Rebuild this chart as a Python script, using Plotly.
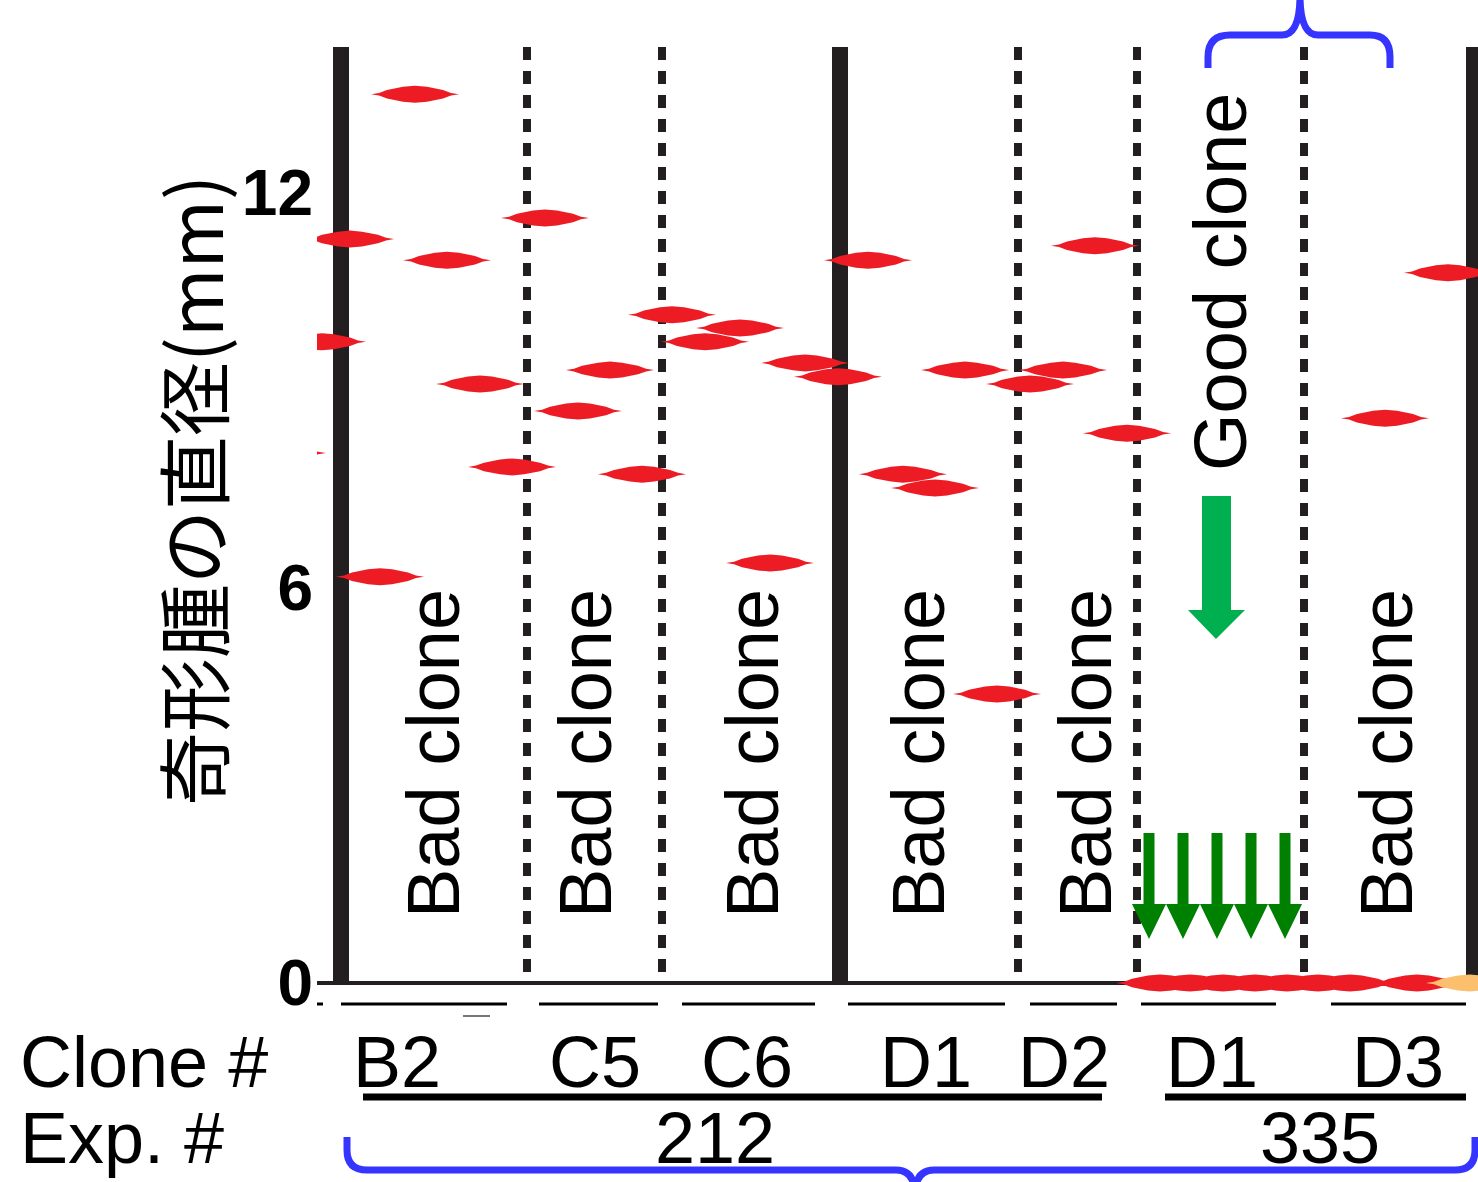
import plotly.graph_objects as go

# ---------------- data ----------------
y_ticks = [0, 6, 12]
clone_labels = ["B2", "C5", "C6", "D1", "D2", "D1", "D3"]
exp_labels = ["212", "335"]
group_notes = ["Bad clone", "Bad clone", "Bad clone", "Bad clone", "Bad clone", "Good clone", "Bad clone"]

# tumour positions along the lane axis and diameters (mm)
b2_x = [415, 350, 447, 322, 480, 512, 380, 282]
b2_y = [13.50, 11.30, 10.98, 9.74, 9.10, 7.84, 6.17, 8.05]
c5_x = [545, 578, 610, 642]
c5_y = [11.62, 8.69, 9.31, 7.73]
c6_x = [672, 705, 740, 770, 805, 838]
c6_y = [10.15, 9.74, 9.95, 6.38, 9.42, 9.21]
d1_x = [868, 903, 935, 965, 997]
d1_y = [10.98, 7.73, 7.52, 9.31, 4.39]
d2_x = [1030, 1063, 1095, 1127]
d2_y = [9.10, 9.31, 11.20, 8.35]
d1b_x = [1160, 1190, 1223, 1255, 1287]
d1b_y = [0, 0, 0, 0, 0]
d3_x = [1318, 1350, 1385, 1417, 1448]
d3_y = [0, 0, 8.58, 0, 10.79]
extra_x = [1470]
extra_y = [0]

# lane separators (lane axis)
solid_sep = [341, 840, 1474]
dashed_sep = [527, 662, 1018, 1137, 1304]

# ---------------- geometry / styles ----------------
W, H = 1478, 1182
PL, PR, PT, PB = 317, 1478, 0, 1000
Y0_PX = 983.0
PX_PER_MM = 65.83
Y_LO = (Y0_PX - PB) / PX_PER_MM
Y_HI = (Y0_PX - PT) / PX_PER_MM
SEP_TOP = (Y0_PX - 47) / PX_PER_MM

RED = "#ed1c24"
ORANGE = "#fbbf6e"
DARK = "#231f20"
BLUE = "#3535ff"
GREEN_BIG = "#00b050"
GREEN = "#008000"
FONT = "Liberation Sans, Arial, Noto Sans CJK JP"

HH = 8.5 / PX_PER_MM  # half height of spindle, in mm
SPINDLE = [(-44, 0), (-36, 0.15), (-28, 0.5), (-12, 0.88), (0, 1), (12, 0.88), (28, 0.5), (36, 0.15), (44, 0)]


def spindles(xs, ys):
    px, py = [], []
    for x, y in zip(xs, ys):
        for dx, dy in SPINDLE:
            px.append(x + dx)
            py.append(y + dy * HH)
        for dx, dy in reversed(SPINDLE[1:-1]):
            px.append(x + dx)
            py.append(y - dy * HH)
        px.append(None)
        py.append(None)
    return px, py


def fx(x):
    return (x - PL) / (PR - PL)


def fy(y):
    return (PB - y) / (PB - PT)


def P(x, y):
    return f"{fx(x):.5f},{fy(y):.5f}"


fig = go.Figure()

all_x = b2_x + c5_x + c6_x + d1_x + d2_x + d1b_x + d3_x
all_y = b2_y + c5_y + c6_y + d1_y + d2_y + d1b_y + d3_y
sx, sy = spindles(all_x, all_y)
fig.add_trace(go.Scatter(x=sx, y=sy, mode="lines", fill="toself", fillcolor=RED,
                         line=dict(width=0, color=RED), hoverinfo="skip"))
ex, ey = spindles(extra_x, extra_y)
fig.add_trace(go.Scatter(x=ex, y=ey, mode="lines", fill="toself", fillcolor=ORANGE,
                         line=dict(width=0, color=ORANGE), hoverinfo="skip"))

shapes = []
# baseline
shapes.append(dict(type="line", xref="paper", yref="y", x0=0, x1=1, y0=0, y1=0,
                   line=dict(color=DARK, width=4), layer="below"))
for x in solid_sep:
    shapes.append(dict(type="line", xref="x", yref="y", x0=x, x1=x, y0=0, y1=SEP_TOP,
                       line=dict(color=DARK, width=16), layer="below"))
for x in dashed_sep:
    shapes.append(dict(type="line", xref="x", yref="y", x0=x, x1=x, y0=SEP_TOP, y1=0,
                       line=dict(color=DARK, width=8, dash="13px,11px"), layer="below"))

# thin lane bars under the baseline
for a, b in [(317, 323), (341, 507), (539, 658), (682, 815), (848, 1005), (1030, 1117), (1141, 1276), (1331, 1466)]:
    shapes.append(dict(type="line", xref="paper", yref="paper", x0=fx(a), x1=fx(b), y0=fy(1004), y1=fy(1004),
                       line=dict(color="black", width=3)))
shapes.append(dict(type="line", xref="paper", yref="paper", x0=fx(463), x1=fx(490), y0=fy(1016), y1=fy(1016),
                   line=dict(color="#777777", width=2)))

# experiment underlines
for a, b in [(363, 1102), (1165, 1466)]:
    shapes.append(dict(type="line", xref="paper", yref="paper", x0=fx(a), x1=fx(b), y0=fy(1097), y1=fy(1097),
                       line=dict(color="black", width=7)))

# braces
bottom_brace = (f"M {P(347,1137)} L {P(347,1150)} Q {P(347,1170)} {P(367,1170)} L {P(896,1170)} "
                f"Q {P(915,1170)} {P(915,1195)} M {P(915,1195)} Q {P(915,1170)} {P(934,1170)} "
                f"L {P(1455,1170)} Q {P(1475,1170)} {P(1475,1150)} L {P(1475,1137)}")
top_brace = (f"M {P(1208,68)} L {P(1208,57)} Q {P(1208,35)} {P(1230,35)} L {P(1282,35)} "
             f"Q {P(1300,35)} {P(1300,-5)} M {P(1300,-5)} Q {P(1300,35)} {P(1318,35)} "
             f"L {P(1370,35)} Q {P(1390,35)} {P(1390,57)} L {P(1390,68)}")
for path in (bottom_brace, top_brace):
    shapes.append(dict(type="path", xref="paper", yref="paper", path=path,
                       line=dict(color=BLUE, width=7)))

# green arrows
big = (f"M {P(1202,496)} L {P(1231,496)} L {P(1231,610)} L {P(1245,610)} L {P(1216,639)} "
       f"L {P(1188,610)} L {P(1202,610)} Z")
shapes.append(dict(type="path", xref="paper", yref="paper", path=big, fillcolor=GREEN_BIG,
                   line=dict(width=0, color=GREEN_BIG)))
for t in [1149, 1183, 1217, 1251, 1285]:
    p = (f"M {P(t-5.5,833)} L {P(t+5.5,833)} L {P(t+5.5,904)} L {P(t+17,904)} L {P(t,939)} "
         f"L {P(t-17,904)} L {P(t-5.5,904)} Z")
    shapes.append(dict(type="path", xref="paper", yref="paper", path=p, fillcolor=GREEN,
                       line=dict(width=0, color=GREEN)))

anns = []


def ann(text, x, y, size=72, angle=0, xanchor="center", family=FONT):
    anns.append(dict(text=text, xref="paper", yref="paper", x=fx(x), y=fy(y), showarrow=False,
                     textangle=angle, xanchor=xanchor, yanchor="middle",
                     font=dict(family=family, size=size, color="black")))


note_x = [433, 585, 752, 918, 1085, 1220, 1386]
note_y = [754, 754, 754, 754, 754, 282, 754]
for t, x, y in zip(group_notes, note_x, note_y):
    ann(t, x, y, size=74, angle=-90)

ann("奇形腫の直径(mm)", 190, 491, size=74, angle=-90, family="Noto Sans CJK JP, Liberation Sans")

ann("Clone #", 18, 1062, size=72, xanchor="left")
ann("Exp. #", 18, 1138, size=72, xanchor="left")
for t, x in zip(clone_labels, [397, 595, 747, 926, 1064, 1212, 1398]):
    ann(t, x, 1062, size=72)
for t, x in zip(exp_labels, [715, 1320]):
    ann(t, x, 1138, size=72)

fig.update_layout(
    width=W, height=H,
    margin=dict(l=PL, r=W - PR, t=PT, b=H - PB, autoexpand=False),
    plot_bgcolor="white", paper_bgcolor="white", showlegend=False,
    xaxis=dict(range=[PL, PR], visible=False, fixedrange=True),
    yaxis=dict(range=[Y_LO, Y_HI], tickvals=y_ticks, ticktext=[str(v) for v in y_ticks],
               showgrid=False, zeroline=False, showline=False, ticks="", ticklabelstandoff=3,
               fixedrange=True,
               tickfont=dict(family=FONT, size=64, color="black", weight="bold")),
    shapes=shapes, annotations=anns,
)

fig.write_html("out.html", config={"displayModeBar": False},
               post_script="document.body.style.margin='0';document.body.style.overflow='hidden';")
